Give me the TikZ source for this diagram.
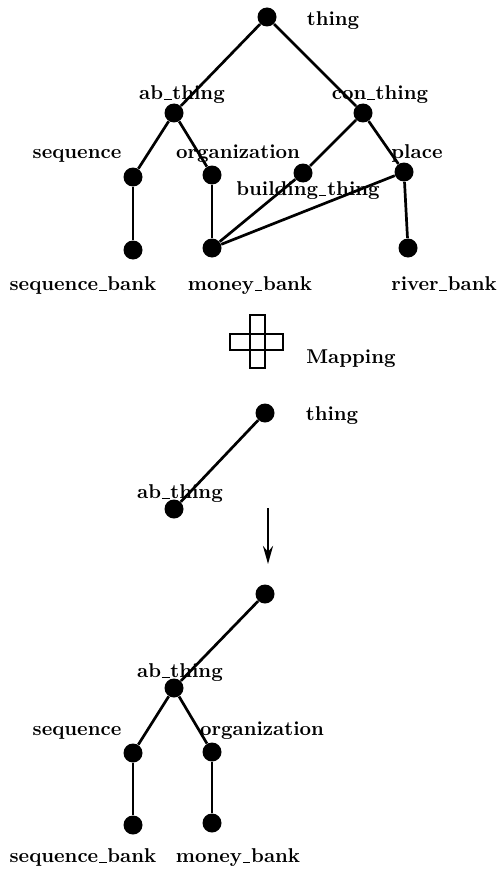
\documentclass[tikz,border=0pt]{standalone}
\usetikzlibrary{arrows.meta}
% short underscore sitting on the baseline
\newcommand\usc{\kern0.04em\rule[-0.12ex]{0.38em}{0.55pt}\kern0.04em}
\begin{document}
\begin{tikzpicture}[x=0.5pt,y=-0.5pt,
  dot/.style={circle,fill=black,inner sep=0pt,minimum size=9.5pt},
  lbl/.style={font=\bfseries,inner sep=0pt,anchor=base},
  edge/.style={line width=1.35pt},
  crossbar/.style={line width=1pt}]
\useasboundingbox (0,0) rectangle (500,872);

% upper hierarchy
\node[dot] (t1)  at (267,17)  {};
\node[dot] (ab1) at (174,113) {};
\node[dot] (con) at (363,113) {};
\node[dot] (sq1) at (133,177) {};
\node[dot] (or1) at (212,175) {};
\node[dot] (bld) at (303,173) {};
\node[dot] (pl)  at (404,172) {};
\node[dot] (sb1) at (133,250) {};
\node[dot] (mb1) at (212,248) {};
\node[dot] (rb)  at (408,248) {};

\draw[edge] (t1) -- (ab1);
\draw[edge] (t1) -- (con);
\draw[edge] (ab1) -- (sq1);
\draw[edge] (ab1) -- (or1);
\draw[edge] (con) -- (bld);
\draw[edge] (con) -- (pl);
\draw[edge] (sq1) -- (sb1);
\draw[edge] (or1) -- (mb1);
\draw[edge] (bld) -- (mb1);
\draw[edge] (pl) -- (mb1);
\draw[edge] (pl) -- (rb);

\node[lbl] (lt1)  at (333,26)  {thing};
\node[lbl] (lab1) at (182,99)  {ab\usc thing};
\node[lbl] (lcon) at (380,99)  {con\usc thing};
\node[lbl] (lsq1) at (77,158)  {sequence};
\node[lbl] (lor1) at (238,158) {organization};
\node[lbl] (lpl)  at (417,158) {place};
\node[lbl] (lbld) at (308,195) {building\usc thing};
\node[lbl] (lsb1) at (83,290)  {sequence\usc bank};
\node[lbl] (lmb1) at (250,290) {money\usc bank};
\node[lbl] (lrb)  at (444,290) {river\usc bank};

% mapping operator
\draw[crossbar] (230,334) rectangle (283,350);
\draw[crossbar] (250,315) rectangle (265,368);
\node[lbl] (lmap) at (351,363) {Mapping};

% mapping pattern
\node[dot] (t2)  at (265,413) {};
\node[dot] (ab2) at (174,509) {};
\draw[edge] (t2) -- (ab2);
\node[lbl] (lt2)  at (332,420) {thing};
\node[lbl] (lab2) at (180,498) {ab\usc thing};

% result arrow
\coordinate (ar0) at (268,508);
\coordinate (ar1) at (268,564);
\draw[line width=1.3pt,-{Stealth[length=9pt,width=5pt]}] (ar0) -- (ar1);

% resulting hierarchy
\node[dot] (t3)  at (265,594) {};
\node[dot] (ab3) at (174,688) {};
\node[dot] (sq3) at (133,753) {};
\node[dot] (or3) at (212,752) {};
\node[dot] (sb3) at (133,825) {};
\node[dot] (mb3) at (212,823) {};

\draw[edge] (t3) -- (ab3);
\draw[edge] (ab3) -- (sq3);
\draw[edge] (ab3) -- (or3);
\draw[edge] (sq3) -- (sb3);
\draw[edge] (or3) -- (mb3);

\node[lbl] (lab3) at (180,677) {ab\usc thing};
\node[lbl] (lsq3) at (77,735)  {sequence};
\node[lbl] (lor3) at (262,735) {organization};
\node[lbl] (lsb3) at (83,862)  {sequence\usc bank};
\node[lbl] (lmb3) at (238,862) {money\usc bank};
\end{tikzpicture}
\end{document}
